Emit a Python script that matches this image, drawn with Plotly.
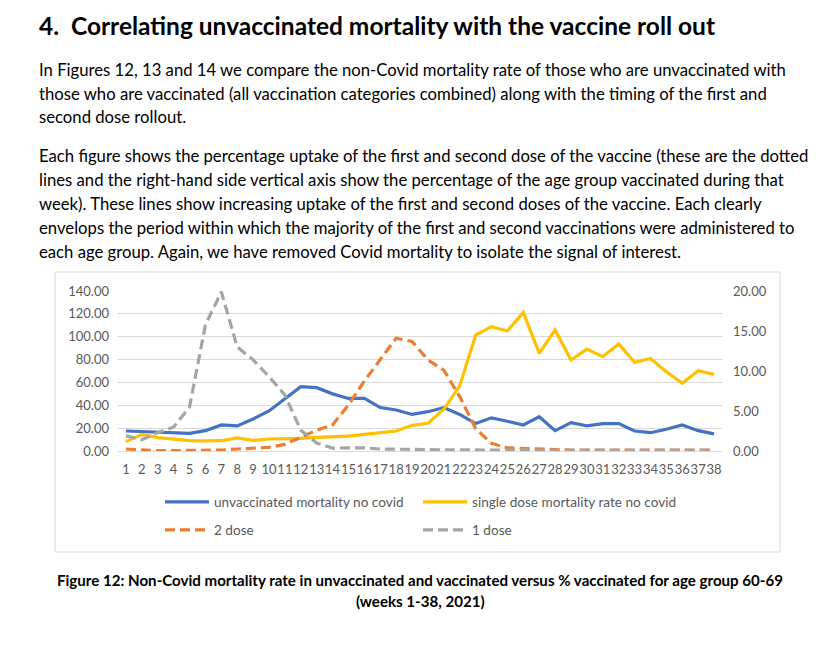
import plotly.graph_objects as go

weeks = [1, 2, 3, 4, 5, 6, 7, 8, 9, 10, 11, 12, 13, 14, 15, 16, 17, 18, 19,
         20, 21, 22, 23, 24, 25, 26, 27, 28, 29, 30, 31, 32, 33, 34, 35, 36, 37, 38]

unvacc_mortality = [17.5, 17.0, 16.3, 16.0, 15.5, 17.8, 22.8, 22.0, 28.0, 35.0,
                    45.5, 56.3, 55.4, 50.0, 46.0, 46.0, 38.0, 35.9, 32.0, 34.4,
                    38.0, 32.0, 24.0, 29.0, 26.0, 22.8, 30.0, 17.8, 24.8, 22.0,
                    24.0, 24.0, 17.5, 16.0, 19.0, 22.8, 17.8, 15.0]

single_dose_mortality = [8.2, 14.6, 11.7, 10.5, 9.0, 8.8, 9.0, 11.4, 9.3, 10.5,
                         10.5, 11.0, 12.0, 12.5, 13.0, 14.6, 15.8, 17.5, 22.5, 24.2,
                         36.5, 57.0, 101.5, 108.8, 105.0, 121.3, 85.5, 105.9, 79.6, 89.2,
                         82.5, 93.6, 77.6, 81.0, 69.4, 59.2, 70.3, 67.0]

dose2_pct = [0.25, 0.12, 0.05, 0.05, 0.08, 0.08, 0.12, 0.25, 0.33, 0.46,
             0.83, 1.7, 2.6, 3.25, 5.75, 8.75, 11.5, 14.1, 13.7, 11.4,
             10.1, 6.8, 2.8, 0.95, 0.4, 0.3, 0.2, 0.12, 0.1, 0.1,
             0.1, 0.1, 0.1, 0.1, 0.1, 0.1, 0.1, 0.1]

dose1_pct = [1.9, 1.4, 2.3, 3.0, 5.5, 15.75, 19.9, 13.0, 11.4, 9.3,
             7.0, 2.6, 1.0, 0.35, 0.4, 0.4, 0.25, 0.2, 0.2, 0.2,
             0.15, 0.15, 0.1, 0.1, 0.1, 0.1, 0.08, 0.08, 0.08, 0.08,
             0.08, 0.08, 0.08, 0.08, 0.08, 0.08, 0.08, 0.08]

left_ticks = [0, 20, 40, 60, 80, 100, 120, 140]
right_ticks = [0, 5, 10, 15, 20]

series_names = ["unvaccinated mortality no covid", "single dose mortality rate no covid",
                "2 dose", "1 dose"]

title_text = "4.  Correlating unvaccinated mortality with the vaccine roll out"
body_lines = [
    "In Figures 12, 13 and 14 we compare the non-Covid mortality rate of those who are unvaccinated with",
    "those who are vaccinated (all vaccination categories combined) along with the timing of the first and",
    "second dose rollout.",
    "Each figure shows the percentage uptake of the first and second dose of the vaccine (these are the dotted",
    "lines and the right-hand side vertical axis show the percentage of the age group vaccinated during that",
    "week). These lines show increasing uptake of the first and second doses of the vaccine. Each clearly",
    "envelops the period within which the majority of the first and second vaccinations were administered to",
    "each age group. Again, we have removed Covid mortality to isolate the signal of interest.",
]
body_y = [70, 94, 117, 156, 180, 204, 228, 252]
caption_lines = [
    "Figure 12: Non-Covid mortality rate in unvaccinated and vaccinated versus % vaccinated for age group 60-69",
    "(weeks 1-38, 2021)",
]

W, H = 840, 665
PL, PR, PT, PB = 118, 722, 291, 451
FONT = "Lato"


def px(x):
    return (x - PL) / (PR - PL)


def py(y):
    return (PB - y) / (PB - PT)


BLUE, YELLOW, ORANGE, GRAY = "#4472C4", "#FFC000", "#ED7D31", "#A5A5A5"
DASH = "10px,5px"

fig = go.Figure()
fig.add_trace(go.Scatter(x=weeks, y=unvacc_mortality, name=series_names[0], mode="lines",
                         line=dict(color=BLUE, width=3.2), legend="legend"))
fig.add_trace(go.Scatter(x=weeks, y=single_dose_mortality, name=series_names[1], mode="lines",
                         line=dict(color=YELLOW, width=3.2), legend="legend2"))
fig.add_trace(go.Scatter(x=weeks, y=dose2_pct, name=series_names[2], mode="lines", yaxis="y2",
                         line=dict(color=ORANGE, width=3.2, dash=DASH), legend="legend3"))
fig.add_trace(go.Scatter(x=weeks, y=dose1_pct, name=series_names[3], mode="lines", yaxis="y2",
                         line=dict(color=GRAY, width=3.2, dash=DASH), legend="legend4"))

tickfont = dict(family=FONT, size=13, color="#595959")

annotations = [dict(text="<b>" + title_text + "</b>", x=px(37), y=py(25), xref="paper", yref="paper",
                    xanchor="left", yanchor="middle", showarrow=False,
                    font=dict(family=FONT, size=24.5, color="#000000"))]
for t, yy in zip(body_lines, body_y):
    annotations.append(dict(text=t, x=px(37), y=py(yy), xref="paper", yref="paper",
                            xanchor="left", yanchor="middle", showarrow=False,
                            font=dict(family=FONT, size=16.7, color="#000000")))
for t, yy in zip(caption_lines, [580, 601]):
    annotations.append(dict(text="<b>" + t + "</b>", x=px(420), y=py(yy), xref="paper", yref="paper",
                            xanchor="center", yanchor="middle", showarrow=False,
                            font=dict(family=FONT, size=15.1, color="#000000")))

legend_common = dict(orientation="h", xanchor="left", yanchor="middle", bgcolor="rgba(0,0,0,0)",
                     font=dict(family=FONT, size=13.6, color="#595959"), itemwidth=44)

fig.update_layout(
    width=W, height=H,
    margin=dict(l=PL, r=W - PR, t=PT, b=H - PB, pad=0),
    paper_bgcolor="white", plot_bgcolor="white",
    showlegend=True,
    legend=dict(x=px(160), y=py(502), **legend_common),
    legend2=dict(x=px(418), y=py(502), **legend_common),
    legend3=dict(x=px(160), y=py(530), **legend_common),
    legend4=dict(x=px(418), y=py(530), **legend_common),
    xaxis=dict(range=[0.5, 38.5], tickmode="array", tickvals=weeks, ticktext=[str(w) for w in weeks],
               tickfont=tickfont, tickangle=0, showgrid=False, zeroline=False, showline=True,
               linecolor="#D9D9D9", linewidth=1, ticks="", ticklabelstandoff=6),
    yaxis=dict(range=[0, 140], tickmode="array", tickvals=left_ticks,
               ticktext=[f"{v:.2f}" for v in left_ticks], tickfont=tickfont,
               showgrid=True, gridcolor="#D9D9D9", gridwidth=1, zeroline=False,
               showline=False, ticks="", ticklabelstandoff=8),
    yaxis2=dict(range=[0, 20], overlaying="y", side="right", tickmode="array", tickvals=right_ticks,
                ticktext=[f"{v:.2f}" for v in right_ticks], tickfont=tickfont,
                showgrid=False, zeroline=False, showline=False, ticks="", ticklabelstandoff=10),
    shapes=[dict(type="rect", xref="paper", yref="paper", x0=px(55), x1=px(780), y0=py(552), y1=py(272),
                 line=dict(color="#D9D9D9", width=1), fillcolor="rgba(0,0,0,0)", layer="below")],
    annotations=annotations,
)

fig.write_html("out.html")
